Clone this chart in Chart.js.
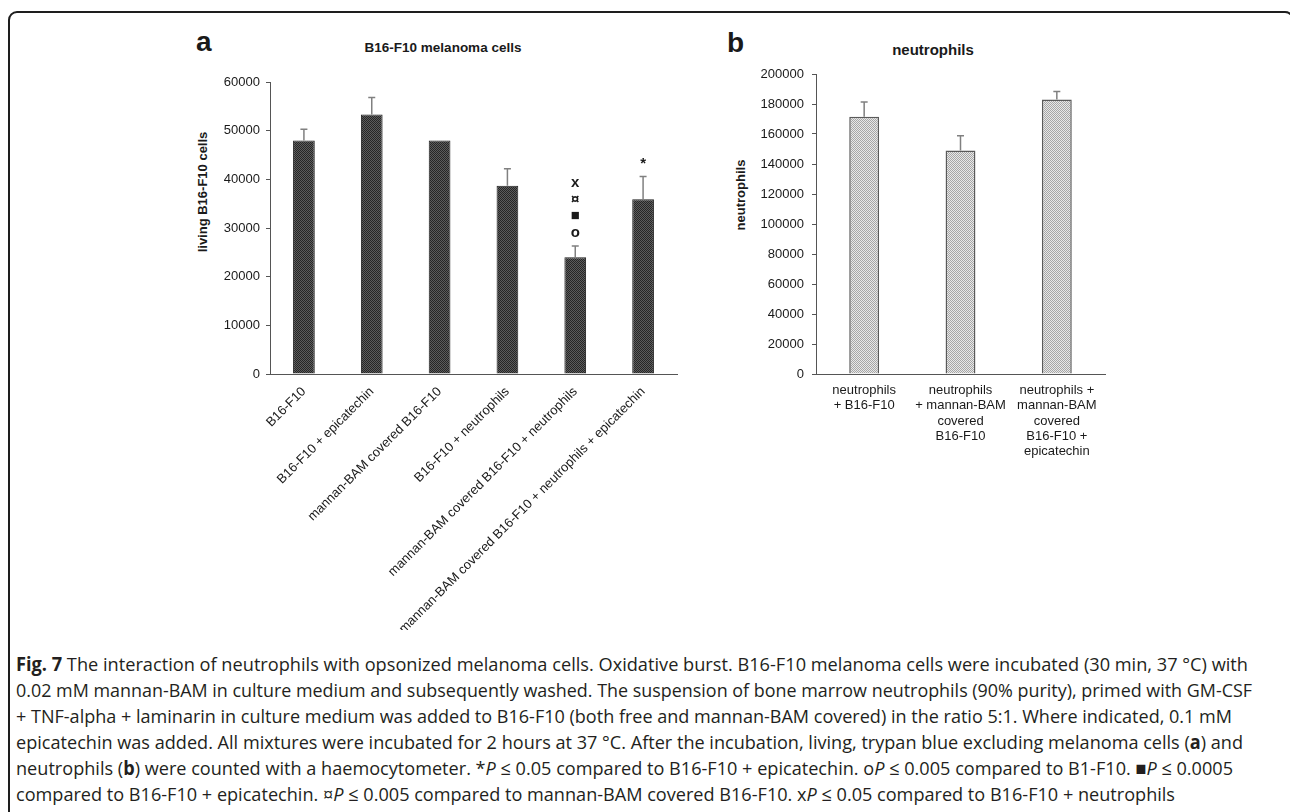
<!DOCTYPE html>
<html><head><meta charset="utf-8">
<script src="https://cdn.jsdelivr.net/npm/chart.js@4.4.1/dist/chart.umd.min.js"></script>
<style>
html,body{margin:0;padding:0;background:#fff;}
body{width:1290px;height:812px;position:relative;overflow:hidden;font-family:"Liberation Sans",Arial,sans-serif;color:#1a1a1a;}
.frame{position:absolute;left:8px;top:11px;right:-4px;bottom:-20px;border:2px solid #1e1e1e;border-radius:9px;}
.panel{position:absolute;font-weight:bold;font-size:28px;line-height:28px;}
.ctitle{position:absolute;font-weight:bold;transform:translate(-50%,-50%);white-space:nowrap;}
.ytitle{position:absolute;font-weight:bold;font-size:13px;transform:translate(-50%,-50%) rotate(-90deg);white-space:nowrap;}
canvas{position:absolute;}
#caption{position:absolute;left:16px;top:651px;font-family:"Open Sans","Noto Sans",sans-serif;font-size:19px;line-height:26px;color:#231f20;}
#caption div{white-space:nowrap;height:26px;}
#caption span.l{display:inline-block;transform-origin:0 50%;}
</style></head><body>
<div class="frame"></div>
<div class="panel" style="left:196px;top:28px;">a</div>
<div class="panel" style="left:727px;top:29px;">b</div>
<div class="ctitle" style="left:443px;top:47px;font-size:13.5px;">B16-F10 melanoma cells</div>
<div class="ctitle" style="left:933px;top:49px;font-size:15px;">neutrophils</div>
<div class="ytitle" style="left:202px;top:192px;">living B16-F10 cells</div>
<div class="ytitle" style="left:740px;top:195px;">neutrophils</div>
<canvas id="ca" width="520" height="600" style="left:170px;top:30px;"></canvas>
<canvas id="cb" width="400" height="470" style="left:716px;top:30px;"></canvas>
<div id="caption">
<div><span class="l"><b>Fig. 7</b> The interaction of neutrophils with opsonized melanoma cells. Oxidative burst. B16-F10 melanoma cells were incubated (30 min, 37 °C) with</span></div>
<div><span class="l">0.02 mM mannan-BAM in culture medium and subsequently washed. The suspension of bone marrow neutrophils (90% purity), primed with GM-CSF</span></div>
<div><span class="l">+ TNF-alpha + laminarin in culture medium was added to B16-F10 (both free and mannan-BAM covered) in the ratio 5:1. Where indicated, 0.1 mM</span></div>
<div><span class="l">epicatechin was added. All mixtures were incubated for 2 hours at 37 °C. After the incubation, living, trypan blue excluding melanoma cells (<b>a</b>) and</span></div>
<div><span class="l">neutrophils (<b>b</b>) were counted with a haemocytometer. *<i>P</i> ≤ 0.05 compared to B16-F10 + epicatechin. o<i>P</i> ≤ 0.005 compared to B1-F10. ■<i>P</i> ≤ 0.0005</span></div>
<div><span class="l">compared to B16-F10 + epicatechin. ¤<i>P</i> ≤ 0.005 compared to mannan-BAM covered B16-F10. x<i>P</i> ≤ 0.05 compared to B16-F10 + neutrophils</span></div>
</div>
<script>
// ---- Data: panel a ----
const catsA = ["B16-F10", "B16-F10 + epicatechin", "mannan-BAM covered B16-F10", "B16-F10 + neutrophils", "mannan-BAM covered B16-F10 + neutrophils", "mannan-BAM covered B16-F10 + neutrophils + epicatechin"];
const valsA = [48000, 53300, 48000, 38700, 24000, 35900];
const errA = [2300, 3500, 0, 3500, 2300, 4700];
const sigA = [[], [], [], [], ["o", "■", "¤", "x"], ["*"]];
const yMaxA = 60000;
const yStepA = 10000;
// ---- Data: panel b ----
const catsB = [["neutrophils", "+ B16-F10"], ["neutrophils", "+ mannan-BAM", "covered", "B16-F10"], ["neutrophils +", "mannan-BAM", "covered", "B16-F10 +", "epicatechin"]];
const valsB = [171500, 149000, 183000];
const errB = [9800, 9900, 5400];
const yMaxB = 200000;
const yStepB = 20000;

const FONT = '"Liberation Sans", Arial, sans-serif';

function makePattern(ctx, c1, c2) {
  const t = document.createElement('canvas');
  t.width = 2; t.height = 2;
  const x = t.getContext('2d');
  x.fillStyle = c2; x.fillRect(0, 0, 2, 2);
  x.fillStyle = c1; x.fillRect(0, 0, 1, 1); x.fillRect(1, 1, 1, 1);
  return ctx.createPattern(t, 'repeat');
}

function makeErrPlugin(vals, errs, sig, cap) {
  return {
    id: 'errBars',
    afterDatasetsDraw(chart) {
      const meta = chart.getDatasetMeta(0);
      const ys = chart.scales.y;
      const ctx = chart.ctx;
      ctx.save();
      ctx.strokeStyle = '#808080';
      ctx.lineWidth = 1.5;
      errs.forEach((e, i) => {
        if (!e) return;
        const bar = meta.data[i];
        const y0 = ys.getPixelForValue(vals[i]);
        const y1 = ys.getPixelForValue(vals[i] + e);
        ctx.beginPath();
        ctx.moveTo(bar.x, y0); ctx.lineTo(bar.x, y1);
        ctx.moveTo(bar.x - cap, y1); ctx.lineTo(bar.x + cap, y1);
        ctx.stroke();
      });
      if (sig) {
        ctx.fillStyle = '#1a1a1a';
        ctx.font = 'bold 15px ' + FONT;
        ctx.textAlign = 'center';
        ctx.textBaseline = 'middle';
        sig.forEach((arr, i) => {
          const bar = meta.data[i];
          const top = ys.getPixelForValue(vals[i] + errs[i]);
          arr.forEach((s, k) => ctx.fillText(s, bar.x, top - 13 - k * 16.8));
        });
      }
      ctx.restore();
    }
  };
}

function baseY(max, step, pad, width) {
  return {
    min: 0, max: max,
    ticks: { stepSize: step, color: '#1a1a1a', font: { family: FONT, size: 13 }, padding: pad, callback: v => String(v) },
    grid: { drawOnChartArea: false, drawTicks: true, tickLength: 4, color: '#555', lineWidth: 1 },
    border: { display: true, color: '#555', width: 1 },
    afterFit: s => { s.width = width; }
  };
}

const ctxA = document.getElementById('ca').getContext('2d');
new Chart(ctxA, {
  type: 'bar',
  data: { labels: catsA, datasets: [{ data: valsA, backgroundColor: makePattern(ctxA, '#262626', '#5c5c5c'), borderColor: '#1f1f1f', borderWidth: 1, barPercentage: 0.32, categoryPercentage: 1 }] },
  options: {
    responsive: false, animation: false, devicePixelRatio: 1,
    layout: { padding: { top: 52, right: 13, bottom: 0, left: 0 } },
    plugins: { legend: { display: false }, tooltip: { enabled: false }, title: { display: false } },
    scales: {
      x: {
        grid: { display: false },
        border: { display: true, color: '#555', width: 1 },
        ticks: { autoSkip: false, maxRotation: 45, minRotation: 45, color: '#1a1a1a', font: { family: FONT, size: 13 }, padding: 2 },
        afterFit: s => { s.height = 256; }
      },
      y: baseY(yMaxA, yStepA, 6, 100)
    }
  },
  plugins: [makeErrPlugin(valsA, errA, sigA, 3.5)]
});

const ctxB = document.getElementById('cb').getContext('2d');
new Chart(ctxB, {
  type: 'bar',
  data: { labels: catsB, datasets: [{ data: valsB, backgroundColor: makePattern(ctxB, '#a6a6a6', '#e8e8e8'), borderColor: '#5a5a5a', borderWidth: 1.5, barPercentage: 0.31, categoryPercentage: 1 }] },
  options: {
    responsive: false, animation: false, devicePixelRatio: 1,
    layout: { padding: { top: 44, right: 11, bottom: 0, left: 0 } },
    plugins: { legend: { display: false }, tooltip: { enabled: false }, title: { display: false } },
    scales: {
      x: {
        grid: { display: false },
        border: { display: true, color: '#555', width: 1 },
        ticks: { autoSkip: false, maxRotation: 0, minRotation: 0, color: '#1a1a1a', font: { family: FONT, size: 13, lineHeight: 1.17 }, padding: 1 },
        afterFit: s => { s.height = 126; }
      },
      y: baseY(yMaxB, yStepB, 8, 100)
    }
  },
  plugins: [makeErrPlugin(valsB, errB, null, 3.5)]
});

// fit caption lines to the reference widths
const lineWidths = [1232, 1236, 1216, 1227, 1217, 1159];
document.querySelectorAll('#caption span.l').forEach((s, i) => {
  const w = s.getBoundingClientRect().width;
  if (w > 0) s.style.transform = 'scaleX(' + (lineWidths[i] / w) + ')';
});
</script>
</body></html>
